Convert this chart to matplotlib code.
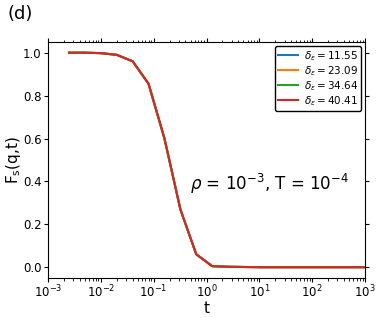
import numpy as np
import matplotlib
matplotlib.use("Agg")
import matplotlib.pyplot as plt

# time points (doubling) and F_s(q,t) values
t = [0.0025, 0.005, 0.01, 0.02, 0.04, 0.08, 0.16, 0.32, 0.64, 1.28, 2.56,
     5.12, 10.24, 20.48, 40.96, 81.92, 163.84, 327.68, 655.36, 1000.0]
fs = [1.0, 1.0, 0.998, 0.99, 0.96, 0.855, 0.6, 0.27, 0.06, 0.005, 0.002,
      0.001, 0.0, 0.0, 0.0, 0.0, 0.0, 0.0, 0.0, 0.0]
deltas = ["11.55", "23.09", "34.64", "40.41"]
colors = ["tab:blue", "tab:orange", "tab:green", "tab:red"]

fig = plt.figure(figsize=(3.81, 3.18), dpi=100)
ax = fig.add_axes([0.126, 0.126, 0.832, 0.742])

for d, c in zip(deltas, colors):
    ax.plot(t, fs, color=c, lw=1.5, label=r"$\delta_\varepsilon = $" + d)

ax.set_xscale("log")
ax.set_xlim(1e-3, 1e3)
ax.set_xticks([1e-3, 1e-2, 1e-1, 1e0, 1e1, 1e2, 1e3])
ax.set_yticks([0.0, 0.2, 0.4, 0.6, 0.8, 1.0])
ax.tick_params(top=True, right=True, which="major", labelsize=8.5,
               length=3, pad=1.5)
ax.tick_params(top=True, right=True, which="minor", length=1.8)
for s in ax.spines.values():
    s.set_linewidth(0.8)
ax.set_xlabel("t", fontsize=11)
ax.set_ylabel(r"F$_\mathrm{s}$(q,t)", fontsize=11)
ax.xaxis.set_label_coords(0.5, -0.097)
ax.yaxis.set_label_coords(-0.078, 0.5)

ax.legend(loc="upper right", fontsize=7.5, edgecolor="black", framealpha=1,
          handlelength=1.9, borderpad=0.3, labelspacing=0.12,
          handletextpad=0.55, borderaxespad=0.35)
ax.text(0.448, 0.40, r"$\rho$ = 10$^{-3}$, T = 10$^{-4}$", transform=ax.transAxes,
        fontsize=12, va="center")
fig.text(0.02, 0.94, "(d)", fontsize=13)

fig.savefig("out.png", dpi=100)
